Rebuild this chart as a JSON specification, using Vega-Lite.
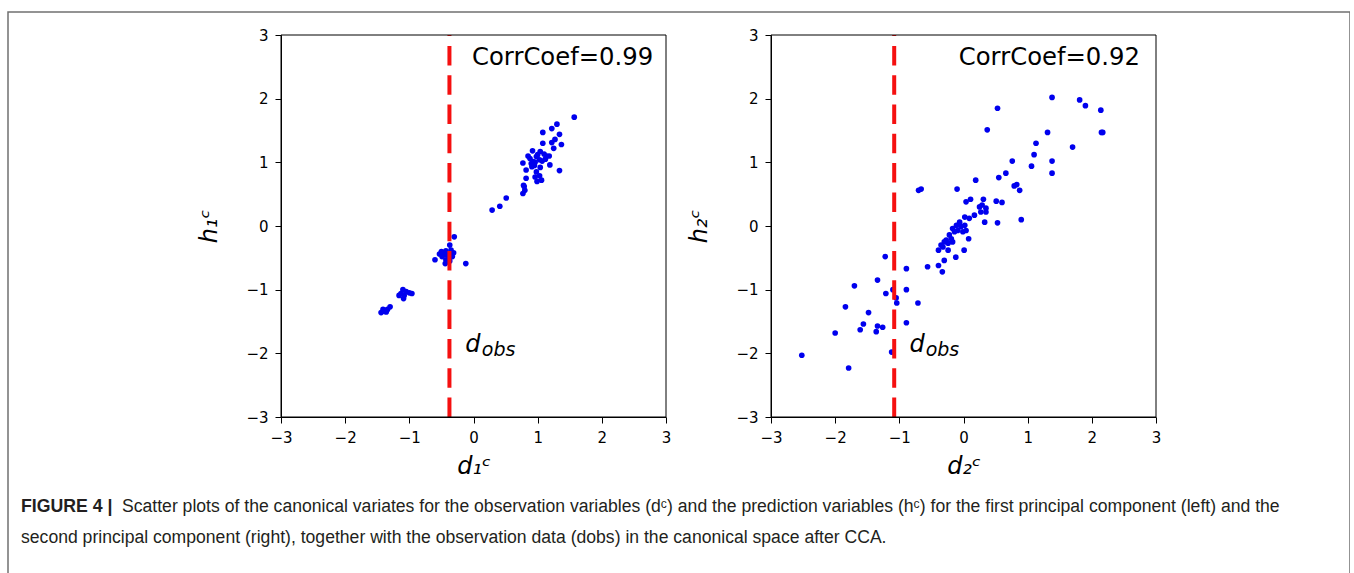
{
  "$schema": "https://vega.github.io/schema/vega-lite/v6.json",
  "background": "white",
  "padding": {"left": 8, "top": 12, "right": 0, "bottom": 0},
  "autosize": {"type": "pad"},
  "width": 1342,
  "height": 600,
  "config": {
    "view": {"stroke": "#707070", "strokeWidth": 1.5},
    "axis": {
      "grid": false,
      "domainColor": "black",
      "domainWidth": 1,
      "tickColor": "black",
      "tickSize": 6,
      "labelFont": "DejaVu Sans",
      "labelFontSize": 15,
      "labelColor": "black",
      "labelPadding": 6,
      "labelFlush": false,
      "labelOverlap": false,
      "titleFont": "DejaVu Sans",
      "titleFontSize": 24,
      "titleFontWeight": "normal",
      "titleFontStyle": "italic",
      "titleColor": "black"
    },
    "text": {"font": "DejaVu Sans", "color": "black"}
  },
  "resolve": {
    "scale": {"x": "independent", "y": "independent"},
    "axis": {"x": "independent", "y": "independent"}
  },
  "layer": [
    {
      "layer": [
        {
          "data": {"values": [
            {"d": 1.57, "h": 1.71}, {"d": 1.30, "h": 1.60}, {"d": 1.22, "h": 1.53}, {"d": 1.08, "h": 1.47},
            {"d": 1.34, "h": 1.44}, {"d": 1.27, "h": 1.36}, {"d": 1.22, "h": 1.31}, {"d": 1.37, "h": 1.28},
            {"d": 1.08, "h": 1.30}, {"d": 1.25, "h": 1.22}, {"d": 0.92, "h": 1.18}, {"d": 1.04, "h": 1.17},
            {"d": 1.10, "h": 1.13}, {"d": 1.18, "h": 1.10}, {"d": 0.98, "h": 1.09}, {"d": 0.88, "h": 1.06},
            {"d": 0.77, "h": 0.99}, {"d": 0.93, "h": 1.01}, {"d": 1.03, "h": 1.04}, {"d": 1.19, "h": 0.96},
            {"d": 0.82, "h": 0.88}, {"d": 0.91, "h": 0.93}, {"d": 1.04, "h": 0.92}, {"d": 1.34, "h": 0.87},
            {"d": 0.96, "h": 0.77}, {"d": 1.06, "h": 0.72}, {"d": 0.99, "h": 0.70}, {"d": 0.82, "h": 0.75},
            {"d": 0.79, "h": 0.62}, {"d": 0.77, "h": 0.51}, {"d": 0.51, "h": 0.44}, {"d": 0.41, "h": 0.31},
            {"d": 0.29, "h": 0.25}, {"d": 0.85, "h": 1.10}, {"d": 0.95, "h": 0.95}, {"d": 1.03, "h": 0.79},
            {"d": 0.78, "h": 0.64}, {"d": 0.80, "h": 0.56}, {"d": 1.14, "h": 1.10}, {"d": 1.00, "h": 1.12},
            {"d": 0.96, "h": 1.00}, {"d": 1.07, "h": 1.02}, {"d": 0.90, "h": 0.98}, {"d": 1.12, "h": 1.05},
            {"d": 0.98, "h": 0.85},
            {"d": -0.30, "h": -0.17}, {"d": -0.37, "h": -0.30}, {"d": -0.50, "h": -0.40}, {"d": -0.43, "h": -0.39},
            {"d": -0.35, "h": -0.38}, {"d": -0.31, "h": -0.42}, {"d": -0.40, "h": -0.46}, {"d": -0.49, "h": -0.48},
            {"d": -0.33, "h": -0.48}, {"d": -0.43, "h": -0.53}, {"d": -0.44, "h": -0.59}, {"d": -0.60, "h": -0.53},
            {"d": -0.12, "h": -0.59}, {"d": -0.53, "h": -0.44}, {"d": -0.37, "h": -0.55}, {"d": -0.46, "h": -0.45},
            {"d": -1.10, "h": -1.00}, {"d": -1.13, "h": -1.06}, {"d": -1.08, "h": -1.09}, {"d": -1.05, "h": -1.03},
            {"d": -1.00, "h": -1.05}, {"d": -0.96, "h": -1.06}, {"d": -1.09, "h": -1.14}, {"d": -1.16, "h": -1.09},
            {"d": -1.44, "h": -1.36}, {"d": -1.39, "h": -1.34}, {"d": -1.34, "h": -1.31}, {"d": -1.30, "h": -1.27},
            {"d": -1.41, "h": -1.31}, {"d": -1.36, "h": -1.35}
          ]},
          "mark": {"type": "circle", "size": 32, "color": "#0000ee", "opacity": 1},
          "encoding": {
            "x": {
              "field": "d", "type": "quantitative",
              "scale": {"domain": [-3, 3], "range": [273, 658], "nice": false, "zero": false},
              "axis": {"orient": "bottom", "offset": -195, "values": [-3, -2, -1, 0, 1, 2, 3], "format": "d", "labelPadding": 7, "title": "d\u2081\u1d9c", "titlePadding": 9}
            },
            "y": {
              "field": "h", "type": "quantitative",
              "scale": {"domain": [-3, 3], "range": [405, 23], "nice": false, "zero": false},
              "axis": {"orient": "left", "offset": -273, "values": [-3, -2, -1, 0, 1, 2, 3], "format": "d", "labelPadding": 7, "title": "h\u2081\u1d9c", "titlePadding": 24}
            }
          }
        },
        {
          "data": {"values": [{"d": -0.375}]},
          "mark": {"type": "rule", "color": "#f51010", "strokeWidth": 4, "strokeDash": [19.5, 9.8]},
          "encoding": {"x": {"field": "d", "type": "quantitative"}, "y": {"datum": -3}, "y2": {"datum": 3}}
        },
        {
          "data": {"values": [{"d": 2.8, "h": 2.53, "label": "CorrCoef=0.99"}]},
          "mark": {"type": "text", "fontSize": 24.3, "align": "right", "baseline": "alphabetic"},
          "encoding": {"x": {"field": "d", "type": "quantitative"}, "y": {"field": "h", "type": "quantitative"}, "text": {"field": "label"}}
        },
        {
          "data": {"values": [{"d": -0.13, "h": -1.98, "label": "d"}]},
          "mark": {"type": "text", "fontSize": 24, "fontStyle": "italic", "align": "left", "baseline": "alphabetic"},
          "encoding": {"x": {"field": "d", "type": "quantitative"}, "y": {"field": "h", "type": "quantitative"}, "text": {"field": "label"}}
        },
        {
          "data": {"values": [{"d": 0.13, "h": -2.04, "label": "obs"}]},
          "mark": {"type": "text", "fontSize": 19, "fontStyle": "italic", "align": "left", "baseline": "alphabetic"},
          "encoding": {"x": {"field": "d", "type": "quantitative"}, "y": {"field": "h", "type": "quantitative"}, "text": {"field": "label"}}
        },
        {
          "data": {"values": [{"x0": -3, "x1": 3, "y0": -3, "y1": 3}]},
          "mark": {"type": "rect", "filled": false, "color": "black", "strokeWidth": 1},
          "encoding": {
            "x": {"field": "x0", "type": "quantitative"}, "x2": {"field": "x1"},
            "y": {"field": "y0", "type": "quantitative"}, "y2": {"field": "y1"}
          }
        }
      ]
    },
    {
      "layer": [
        {
          "data": {"values": [
            {"d": 1.38, "h": 2.02}, {"d": 1.81, "h": 1.98}, {"d": 1.90, "h": 1.89}, {"d": 2.14, "h": 1.82},
            {"d": 2.17, "h": 1.47}, {"d": 2.15, "h": 1.47}, {"d": 0.53, "h": 1.85}, {"d": 0.37, "h": 1.51},
            {"d": 1.31, "h": 1.47}, {"d": 1.13, "h": 1.30}, {"d": 1.10, "h": 1.12}, {"d": 1.06, "h": 0.94},
            {"d": 1.70, "h": 1.24}, {"d": 1.38, "h": 1.02}, {"d": 1.38, "h": 0.83}, {"d": 0.76, "h": 1.02},
            {"d": 0.66, "h": 0.83}, {"d": 0.55, "h": 0.76}, {"d": 0.19, "h": 0.72}, {"d": -0.10, "h": 0.58},
            {"d": -0.66, "h": 0.58}, {"d": -0.70, "h": 0.56}, {"d": 0.79, "h": 0.63}, {"d": 0.83, "h": 0.65},
            {"d": 0.875, "h": 0.56}, {"d": 0.90, "h": 0.10}, {"d": 0.53, "h": 0.05}, {"d": 0.51, "h": 0.39},
            {"d": 0.60, "h": 0.37},
            {"d": 0.04, "h": 0.38}, {"d": 0.11, "h": 0.42}, {"d": 0.31, "h": 0.42}, {"d": 0.25, "h": 0.30},
            {"d": 0.29, "h": 0.33}, {"d": 0.35, "h": 0.28}, {"d": 0.27, "h": 0.22}, {"d": 0.35, "h": 0.22},
            {"d": 0.33, "h": 0.06}, {"d": 0.17, "h": 0.17}, {"d": 0.09, "h": 0.12}, {"d": 0.02, "h": 0.14},
            {"d": -0.06, "h": 0.06}, {"d": -0.11, "h": 0.01}, {"d": -0.17, "h": -0.04}, {"d": -0.14, "h": -0.09},
            {"d": -0.09, "h": -0.07}, {"d": -0.04, "h": -0.01}, {"d": -0.01, "h": -0.09}, {"d": 0.04, "h": -0.07},
            {"d": 0.02, "h": 0.01}, {"d": 0.08, "h": -0.20}, {"d": -0.22, "h": -0.14}, {"d": -0.19, "h": -0.20},
            {"d": -0.27, "h": -0.22}, {"d": -0.30, "h": -0.25}, {"d": -0.24, "h": -0.27}, {"d": -0.35, "h": -0.30},
            {"d": -0.32, "h": -0.33}, {"d": -0.17, "h": -0.25}, {"d": -0.39, "h": -0.38}, {"d": -0.24, "h": -0.38},
            {"d": 0.01, "h": -0.38}, {"d": -0.12, "h": -0.49}, {"d": -0.30, "h": -0.54}, {"d": -0.56, "h": -0.64},
            {"d": -0.39, "h": -0.62}, {"d": -0.33, "h": -0.72},
            {"d": -1.22, "h": -0.48}, {"d": -0.89, "h": -0.67}, {"d": -1.34, "h": -0.85}, {"d": -1.70, "h": -0.94},
            {"d": -0.89, "h": -1.00}, {"d": -1.21, "h": -1.06}, {"d": -1.10, "h": -1.00}, {"d": -1.05, "h": -1.13},
            {"d": -1.04, "h": -1.21}, {"d": -0.71, "h": -1.21}, {"d": -1.84, "h": -1.27}, {"d": -1.48, "h": -1.36},
            {"d": -1.56, "h": -1.54}, {"d": -1.61, "h": -1.63}, {"d": -1.34, "h": -1.57}, {"d": -1.26, "h": -1.59},
            {"d": -1.36, "h": -1.66}, {"d": -0.89, "h": -1.52}, {"d": -2.00, "h": -1.68}, {"d": -1.12, "h": -1.98},
            {"d": -2.52, "h": -2.03}, {"d": -1.79, "h": -2.23}
          ]},
          "mark": {"type": "circle", "size": 32, "color": "#0000ee", "opacity": 1},
          "encoding": {
            "x": {
              "field": "d", "type": "quantitative",
              "scale": {"domain": [-3, 3], "range": [763, 1148], "nice": false, "zero": false},
              "axis": {"orient": "bottom", "offset": -195, "values": [-3, -2, -1, 0, 1, 2, 3], "format": "d", "labelPadding": 7, "title": "d\u2082\u1d9c", "titlePadding": 9}
            },
            "y": {
              "field": "h", "type": "quantitative",
              "scale": {"domain": [-3, 3], "range": [405, 23], "nice": false, "zero": false},
              "axis": {"orient": "left", "offset": -763, "values": [-3, -2, -1, 0, 1, 2, 3], "format": "d", "labelPadding": 7, "title": "h\u2082\u1d9c", "titlePadding": 24}
            }
          }
        },
        {
          "data": {"values": [{"d": -1.08}]},
          "mark": {"type": "rule", "color": "#f51010", "strokeWidth": 4, "strokeDash": [19.5, 9.8]},
          "encoding": {"x": {"field": "d", "type": "quantitative"}, "y": {"datum": -3}, "y2": {"datum": 3}}
        },
        {
          "data": {"values": [{"d": 2.75, "h": 2.53, "label": "CorrCoef=0.92"}]},
          "mark": {"type": "text", "fontSize": 24.3, "align": "right", "baseline": "alphabetic"},
          "encoding": {"x": {"field": "d", "type": "quantitative"}, "y": {"field": "h", "type": "quantitative"}, "text": {"field": "label"}}
        },
        {
          "data": {"values": [{"d": -0.84, "h": -1.98, "label": "d"}]},
          "mark": {"type": "text", "fontSize": 24, "fontStyle": "italic", "align": "left", "baseline": "alphabetic"},
          "encoding": {"x": {"field": "d", "type": "quantitative"}, "y": {"field": "h", "type": "quantitative"}, "text": {"field": "label"}}
        },
        {
          "data": {"values": [{"d": -0.59, "h": -2.04, "label": "obs"}]},
          "mark": {"type": "text", "fontSize": 19, "fontStyle": "italic", "align": "left", "baseline": "alphabetic"},
          "encoding": {"x": {"field": "d", "type": "quantitative"}, "y": {"field": "h", "type": "quantitative"}, "text": {"field": "label"}}
        },
        {
          "data": {"values": [{"x0": -3, "x1": 3, "y0": -3, "y1": 3}]},
          "mark": {"type": "rect", "filled": false, "color": "black", "strokeWidth": 1},
          "encoding": {
            "x": {"field": "x0", "type": "quantitative"}, "x2": {"field": "x1"},
            "y": {"field": "y0", "type": "quantitative"}, "y2": {"field": "y1"}
          }
        }
      ]
    },
    {
      "data": {"values": [
        {"part": "lead", "line": 1, "text": "FIGURE 4 |"},
        {"part": "body", "line": 1, "text": "Scatter plots of the canonical variates for the observation variables (d\u1d9c) and the prediction variables (h\u1d9c) for the first principal component (left) and the"},
        {"part": "body", "line": 2, "text": "second principal component (right), together with the observation data (dobs) in the canonical space after CCA."}
      ]},
      "layer": [
        {
          "transform": [{"filter": "datum.part === 'lead'"}],
          "mark": {"type": "text", "font": "Liberation Sans", "fontSize": 17.7, "fontWeight": "bold", "align": "left", "baseline": "alphabetic", "color": "#231f20"},
          "encoding": {"x": {"value": 13}, "y": {"value": 500}, "text": {"field": "text"}}
        },
        {
          "transform": [{"filter": "datum.part === 'body' && datum.line === 1"}],
          "mark": {"type": "text", "font": "Liberation Sans", "fontSize": 17.6, "align": "left", "baseline": "alphabetic", "color": "#231f20"},
          "encoding": {"x": {"value": 114}, "y": {"value": 500}, "text": {"field": "text"}}
        },
        {
          "transform": [{"filter": "datum.part === 'body' && datum.line === 2"}],
          "mark": {"type": "text", "font": "Liberation Sans", "fontSize": 17.6, "align": "left", "baseline": "alphabetic", "color": "#231f20"},
          "encoding": {"x": {"value": 13}, "y": {"value": 531}, "text": {"field": "text"}}
        }
      ]
    }
  ]
}
